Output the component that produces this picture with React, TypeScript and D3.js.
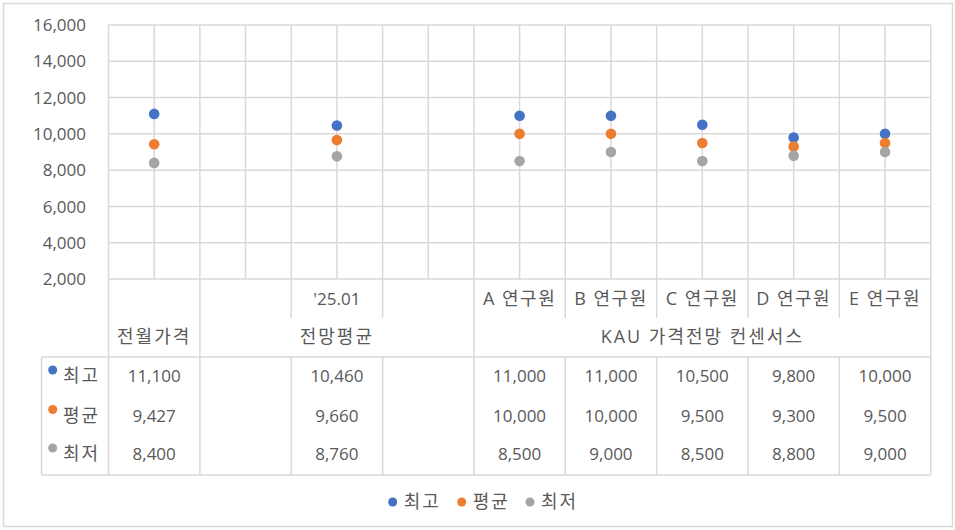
import React from 'react';
import * as d3 from 'd3';

const subLabels = ['', '', "'25.01", '', 'A 연구원', 'B 연구원', 'C 연구원', 'D 연구원', 'E 연구원'];
const groupLabels = ['전월가격', '전망평균', 'KAU 가격전망 컨센서스'];
const groupStarts = [0, 1, 4];
const groupEnds = [1, 4, 9];
const seriesNames = ['최고', '평균', '최저'];
const seriesColors = ['#4472C4', '#ED7D31', '#A5A5A5'];
const highVals: (number | null)[] = [11100, null, 10460, null, 11000, 11000, 10500, 9800, 10000];
const avgVals: (number | null)[] = [9427, null, 9660, null, 10000, 10000, 9500, 9300, 9500];
const lowVals: (number | null)[] = [8400, null, 8760, null, 8500, 9000, 8500, 8800, 9000];
const yTicks = [2000, 4000, 6000, 8000, 10000, 12000, 14000, 16000];

const W = 955, H = 530;
const left = 108.5, right = 930.7, top = 25, bottom = 279;
const tableLeft = 41.5;
const row1Bottom = 318, row2Bottom = 357, tableBottom = 475;
const rowY = [376, 415.5, 454];
const FONT = '"Open Sans", "Noto Sans CJK KR", sans-serif';
const TXT = '#595959';
const GRID = '#D9D9D9';

export default function App() {
  const idx = d3.range(subLabels.length);
  const x = d3.scaleBand<number>().domain(idx).range([left, right]).padding(0);
  const y = d3.scaleLinear().domain([2000, 16000]).range([bottom, top]);
  const bw = x.bandwidth();
  const fmt = d3.format(',');
  const series = [highVals, avgVals, lowVals];

  const halfLines = d3.range(subLabels.length * 2 + 1).map((i) => left + (i * bw) / 2);
  const boundaries = d3.range(subLabels.length + 1).map((i) => left + i * bw);
  const groupBounds = new Set([...groupStarts, 9]);

  return (
    <svg width={W} height={H} style={{ position: 'absolute', left: 0, top: 0 }} fontFamily={FONT}>
      <rect x={0} y={0} width={W} height={H} fill="#fff" />
      <rect x={3.5} y={3.5} width={949} height={523} fill="none" stroke={GRID} strokeWidth={1.5} />
      {yTicks.map((t) => (
        <line key={'h' + t} x1={left} x2={right} y1={y(t)} y2={y(t)} stroke={GRID} strokeWidth={1.5} />
      ))}
      {halfLines.map((lx, i) => (
        <line key={'v' + i} x1={lx} x2={lx} y1={top} y2={bottom} stroke={GRID} strokeWidth={1.5} />
      ))}
      {yTicks.map((t) => (
        <text key={'yl' + t} x={86} y={y(t)} dy="0.36em" textAnchor="end" fontSize={17} fill={TXT}>
          {fmt(t)}
        </text>
      ))}
      <line x1={tableLeft} x2={right} y1={row2Bottom} y2={row2Bottom} stroke={GRID} strokeWidth={1.5} />
      <line x1={tableLeft} x2={right} y1={tableBottom} y2={tableBottom} stroke={GRID} strokeWidth={1.5} />
      <line x1={tableLeft} x2={tableLeft} y1={row2Bottom} y2={tableBottom} stroke={GRID} strokeWidth={1.5} />
      {boundaries.map((bx, i) =>
        groupBounds.has(i) ? (
          <line key={'b' + i} x1={bx} x2={bx} y1={bottom} y2={tableBottom} stroke={GRID} strokeWidth={1.5} />
        ) : (
          <g key={'b' + i}>
            <line x1={bx} x2={bx} y1={bottom} y2={row1Bottom} stroke={GRID} strokeWidth={1.5} />
            <line x1={bx} x2={bx} y1={row2Bottom} y2={tableBottom} stroke={GRID} strokeWidth={1.5} />
          </g>
        )
      )}
      {subLabels.map((s, i) => (
        <text
          key={'s' + i}
          x={(x(i) as number) + bw / 2}
          y={299}
          dy="0.36em"
          textAnchor="middle"
          fontSize={i === 2 ? 17 : 18}
          letterSpacing={i === 2 ? 0 : 1.5}
          fill={TXT}
        >
          {s}
        </text>
      ))}
      {groupLabels.map((g, i) => (
        <text
          key={'g' + i}
          x={(left + groupStarts[i] * bw + left + groupEnds[i] * bw) / 2}
          y={337}
          dy="0.36em"
          textAnchor="middle"
          fontSize={18}
          letterSpacing={2}
          fill={TXT}
        >
          {g}
        </text>
      ))}
      {series.map((vals, si) => (
        <g key={'r' + si}>
          <circle cx={52.7} cy={rowY[si] - 6} r={4.5} fill={seriesColors[si]} />
          <text x={63} y={rowY[si]} dy="0.36em" fontSize={18} letterSpacing={2} fill={TXT}>
            {seriesNames[si]}
          </text>
          {vals.map((v, i) =>
            v == null ? null : (
              <text key={i} x={(x(i) as number) + bw / 2} y={rowY[si]} dy="0.36em" textAnchor="middle" fontSize={17} fill={TXT}>
                {fmt(v)}
              </text>
            )
          )}
        </g>
      ))}
      {series.map((vals, si) =>
        vals.map((v, i) =>
          v == null ? null : (
            <circle key={'p' + si + '-' + i} cx={(x(i) as number) + bw / 2} cy={y(v)} r={5.3} fill={seriesColors[si]} />
          )
        )
      )}
      {[392.7, 461.7, 530].map((lx, si) => (
        <g key={'lg' + si}>
          <circle cx={lx} cy={502} r={4.5} fill={seriesColors[si]} />
          <text x={lx + 11} y={502} dy="0.36em" fontSize={18} letterSpacing={2} fill={TXT}>
            {seriesNames[si]}
          </text>
        </g>
      ))}
    </svg>
  );
}
